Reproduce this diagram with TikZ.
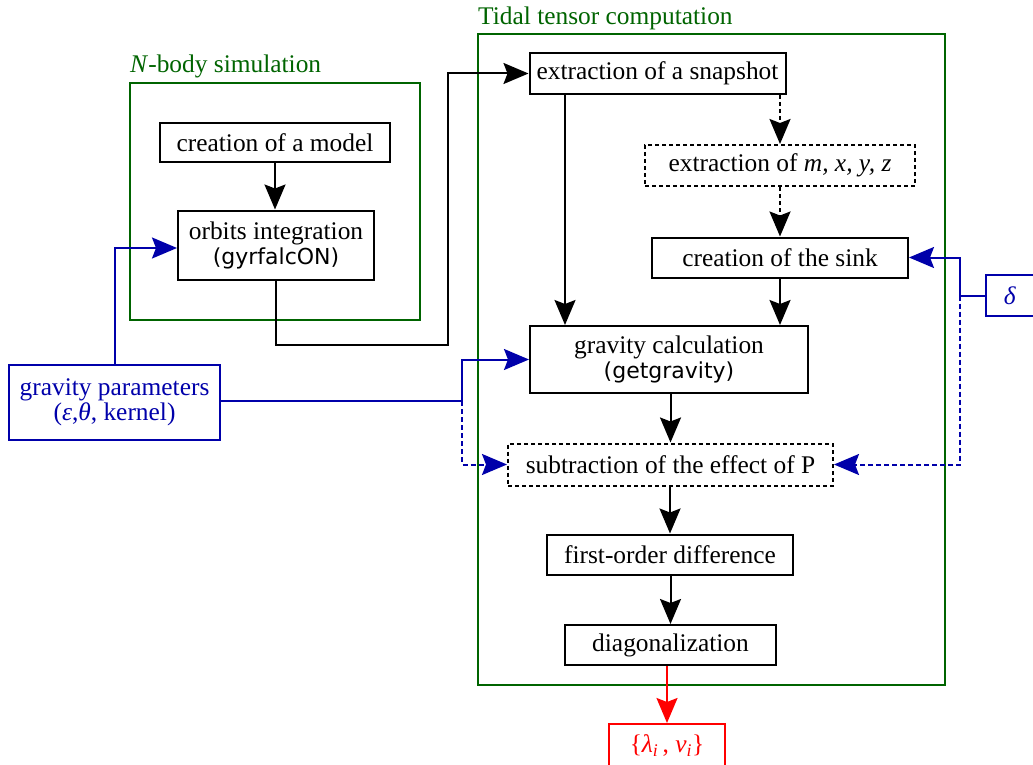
\documentclass[tikz,border=0pt]{standalone}
\usepackage{fontspec}
\setmainfont{Liberation Serif}
\newfontfamily\codefont{DejaVu Sans}
\usetikzlibrary{arrows.meta}
\definecolor{grn}{RGB}{0,100,0}
\definecolor{blu}{RGB}{0,0,170}
\definecolor{rd}{RGB}{255,0,0}
\newcommand{\codetxt}[1]{{\codefont\fontsize{22}{25}\selectfont #1}}
\tikzset{
  every node/.style={font=\fontsize{25.4}{28}\selectfont},
  box/.style={draw, line width=2pt, inner sep=0pt, align=center},
  dbox/.style={box, dash pattern=on 4pt off 3pt},
  frame/.style={draw=grn, line width=2pt, inner sep=0pt},
  ttl/.style={text=grn, anchor=base west, inner sep=0pt},
  tip/.style={-{Stealth[length=25pt,width=21pt,inset=4pt]}},
  arr/.style={tip, line width=2pt},
  darr/.style={arr, dash pattern=on 4pt off 3pt},
  barr/.style={tip, draw=blu, line width=2pt},
  bline/.style={draw=blu, line width=2pt},
  dbarr/.style={barr, dash pattern=on 5pt off 3pt},
}
\begin{document}
\begin{tikzpicture}[x=1pt,y=-1pt]
\useasboundingbox (0,0) rectangle (1033,765);
% frames
\node[frame, minimum width=290pt, minimum height=237pt] (nbody) at (275,201.5) {};
\node[ttl] (nbodyt) at (130,73) {\textit{N}-body simulation};
\node[frame, minimum width=467pt, minimum height=651pt] (tidal) at (711.5,359.5) {};
\node[ttl] (tidalt) at (478,25) {Tidal tensor computation};
% nodes
\node[box, minimum width=230pt, minimum height=39pt] (model) at (275,142.5) {creation of a model};
\node[box, minimum width=196pt, minimum height=69pt] (orbits) at (276,245) {orbits integration\\[-3pt]\codetxt{(gyrfalcON)}};
\node[box, draw=blu, text=blu, minimum width=211pt, minimum height=75pt] (gp) at (114.5,402.5) {gravity parameters\\[-3pt](\textit{ε},\textit{θ}, kernel)};
\node[box, minimum width=256pt, minimum height=41pt] (snap) at (657.5,73.5) {extraction of a snapshot};
\node[dbox, minimum width=270pt, minimum height=41pt] (mxyz) at (780,165.5) {extraction of \textit{m, x, y, z}};
\node[box, minimum width=256pt, minimum height=40pt] (sink) at (780,257.5) {creation of the sink};
\node[box, draw=blu, text=blu, minimum width=70pt, minimum height=41pt] (delta) at (1021,295.5) {\hspace*{-22pt}\textit{δ}};
\node[box, minimum width=278pt, minimum height=67pt] (grav) at (669,359.5) {gravity calculation\\[-3pt]\codetxt{(getgravity)}};
\node[dbox, minimum width=325pt, minimum height=42pt] (sub) at (670.5,464.5) {subtraction of the effect of P};
\node[box, minimum width=246pt, minimum height=40pt] (fod) at (670,554.5) {first-order difference};
\node[box, minimum width=211pt, minimum height=40pt] (diag) at (670.5,645) {diagonalization};
\node[box, draw=rd, text=rd, minimum width=116pt, minimum height=44pt] (res) at (667,746) {\{\textit{λ}\textsubscript{\textit{i}}\,, \textit{ν}\textsubscript{\textit{i}}\}};
% junction coordinates
\coordinate (j1) at (448,345);
\coordinate (j2) at (462,401);
\coordinate (j3) at (960,295.5);
\coordinate (lx) at (565,0);
% black connectors
\draw[arr] (model.south) -- (model.south |- orbits.north);
\draw[arr] (orbits.south) |- (j1) |- (snap.west);
\draw[arr] (snap.south -| lx) -- (grav.north -| lx);
\draw[darr] (snap.south -| mxyz.north) -- (mxyz.north);
\draw[darr] (mxyz.south) -- (sink.north);
\draw[arr] (sink.south) -- (grav.north -| sink.south);
\draw[arr] (grav.south -| sub.north) -- (sub.north);
\draw[arr] (sub.south -| fod.north) -- (fod.north);
\draw[arr] (fod.south -| diag.north) -- (diag.north);
\draw[arr, draw=rd] (diag.south -| res.north) -- (res.north);
% blue connectors
\draw[barr] (gp.north) |- ([yshift=-3pt]orbits.west);
\draw[bline] (gp.east |- j2) -- (j2);
\draw[barr] (j2) |- (grav.west);
\draw[dbarr] (j2) |- (sub.west);
\draw[bline] (delta.west) -- (j3);
\draw[barr] (j3) |- (sink.east);
\draw[dbarr] (j3) |- (sub.east);
\end{tikzpicture}
\end{document}
